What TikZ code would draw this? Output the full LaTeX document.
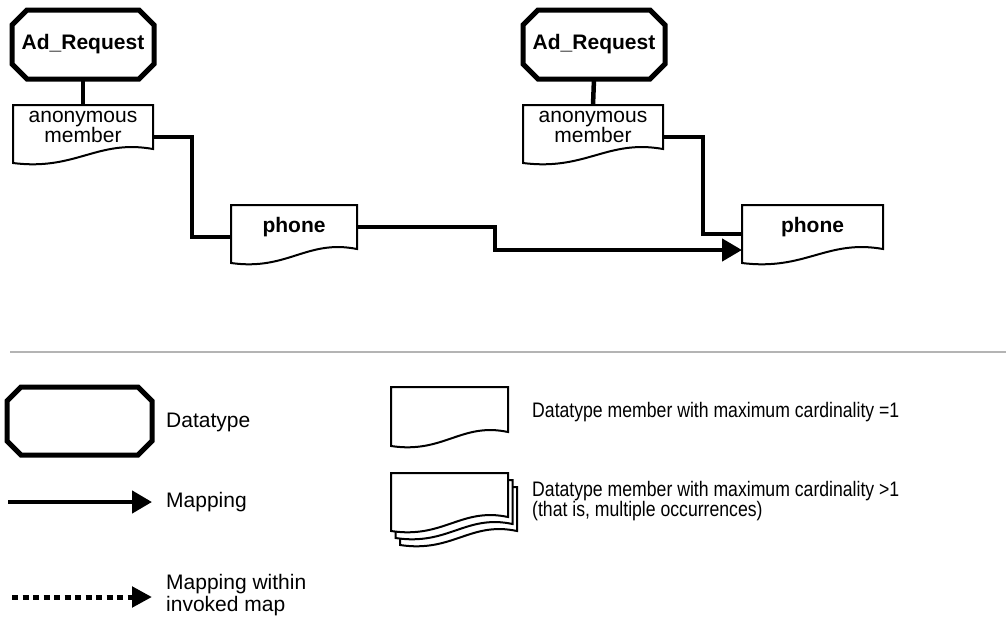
\documentclass[tikz,border=0pt]{standalone}
\usepackage{fontspec}
\setmainfont{Liberation Sans}
\usepackage{graphicx}
\usetikzlibrary{arrows.meta,calc}
\definecolor{ink}{HTML}{000000}
\definecolor{rulegray}{HTML}{B4B4B4}
\tikzset{
  dtype/.style={minimum width=142pt,minimum height=69pt,inner sep=0pt,
                outer sep=0pt,font=\bfseries\fontsize{21}{21}\selectfont},
  member/.style={minimum height=44pt,inner sep=0pt,outer sep=0pt,
                 align=center,font=\fontsize{21}{17}\selectfont},
  phonebox/.style={member,font=\bfseries\fontsize{21}{17}\selectfont},
  dtborder/.style={line width=5pt,draw=ink},
  memborder/.style={line width=2pt,draw=ink},
  stackborder/.style={memborder,fill=white},
  link/.style={line width=4.5pt,draw=ink},
  maparr/.style={line width=4.5pt,draw=ink,
                 -{Triangle[length=20pt,width=22pt]}},
  invokedarr/.style={line width=5pt,draw=ink,dash pattern=on 6pt off 4.5pt,
                     -{Triangle[length=20pt,width=20pt]}},
  legendtext/.style={anchor=west,inner sep=0pt,align=left,
                     font=\fontsize{21}{22}\selectfont},
  sepline/.style={line width=2pt,draw=rulegray}
}
% outline of a datatype (octagon) round a node
\newcommand{\octagon}[2]{%
  \draw[dtborder] ($(#1.north west)+(#2,0)$) -- ($(#1.north east)+(-#2,0)$)
    -- ($(#1.north east)+(0,#2)$) -- ($(#1.south east)+(0,-#2)$)
    -- ($(#1.south east)+(-#2,0)$) -- ($(#1.south west)+(#2,0)$)
    -- ($(#1.south west)+(0,-#2)$) -- ($(#1.north west)+(0,#2)$) -- cycle;}
% outline of a datatype member (wavy bottom) round a node
\newcommand{\wavebox}[2][memborder]{%
  \draw[#1] (#2.north west) -- (#2.north east) -- (#2.south east)
    .. controls ($(#2.south west)!0.6!(#2.south east)+(0,-10)$)
    and ($(#2.south west)!0.45!(#2.south east)+(0,22)$)
    .. ($(#2.south west)+(0,14)$) -- cycle;}

\begin{document}
\begin{tikzpicture}[x=1pt,y=-1pt]
  \useasboundingbox (0,0) rectangle (1006,616);

  % first map
  \node[dtype] (req1) at (83,44.5) {Ad\_Request};
  \node[member,minimum width=140pt] (anon1) at (83,127) {anonymous\\member};
  \node[phonebox,minimum width=126pt] (phone1) at (294,227) {phone};
  \octagon{req1}{15}
  \wavebox{anon1}
  \wavebox{phone1}

  % second map
  \node[dtype] (req2) at (594,44.5) {Ad\_Request};
  \node[member,minimum width=140pt] (anon2) at (593,127) {anonymous\\member};
  \node[phonebox,minimum width=141pt] (phone2) at (812.5,227) {phone};
  \octagon{req2}{15}
  \wavebox{anon2}
  \wavebox{phone2}

  \draw[link] (req1.south) -- (anon1.north);
  \draw[link] ($(anon1.east)+(0,10)$) -- ++(39,0) |- ($(phone1.west)+(0,10)$);
  \draw[link] (req2.south) -- (anon2.north);
  \draw[link] ($(anon2.east)+(0,10)$) -- ++(40,0) |- ($(phone2.west)+(0,7)$);
  \draw[maparr] (phone1.east) -- ++(138,0) |- ($(phone2.west)+(0,23)$);

  % legend
  \draw[sepline] (10,352) -- (1006,352);

  \node[dtype,minimum width=145pt,minimum height=68pt] (legdt) at (79.5,421) {};
  \octagon{legdt}{14}
  \node[legendtext] (dtlbl) at (166,422) {Datatype};

  \coordinate (mapfrom) at (8,502);
  \coordinate (mapto) at (152,502);
  \draw[maparr] (mapfrom) -- (mapto);
  \node[legendtext] (maplbl) at (166,502) {Mapping};

  \coordinate (invfrom) at (12,597);
  \coordinate (invto) at (152,597);
  \draw[invokedarr] (invfrom) -- (invto);
  \node[legendtext] (invlbl) at (166,595) {Mapping within\\invoked map};

  \node[member,minimum width=117pt,minimum height=45pt] (legone) at (449.5,409.5) {};
  \wavebox{legone}
  \node[legendtext] (onelbl) at (532,412)
    {\scalebox{0.84}[1]{Datatype member with maximum cardinality =1}};

  \node[member,minimum width=117pt] (legmany3) at (458.5,509) {};
  \node[member,minimum width=117pt] (legmany2) at (454,502) {};
  \node[member,minimum width=117pt] (legmany) at (449.5,495) {};
  \wavebox[stackborder]{legmany3}
  \wavebox[stackborder]{legmany2}
  \wavebox[stackborder]{legmany}
  \node[legendtext,font=\fontsize{21}{20}\selectfont] (manylbl) at (532,501)
    {\scalebox{0.84}[1]{Datatype member with maximum cardinality >1}\\
     \scalebox{0.84}[1]{(that is, multiple occurrences)}};
\end{tikzpicture}
\end{document}
